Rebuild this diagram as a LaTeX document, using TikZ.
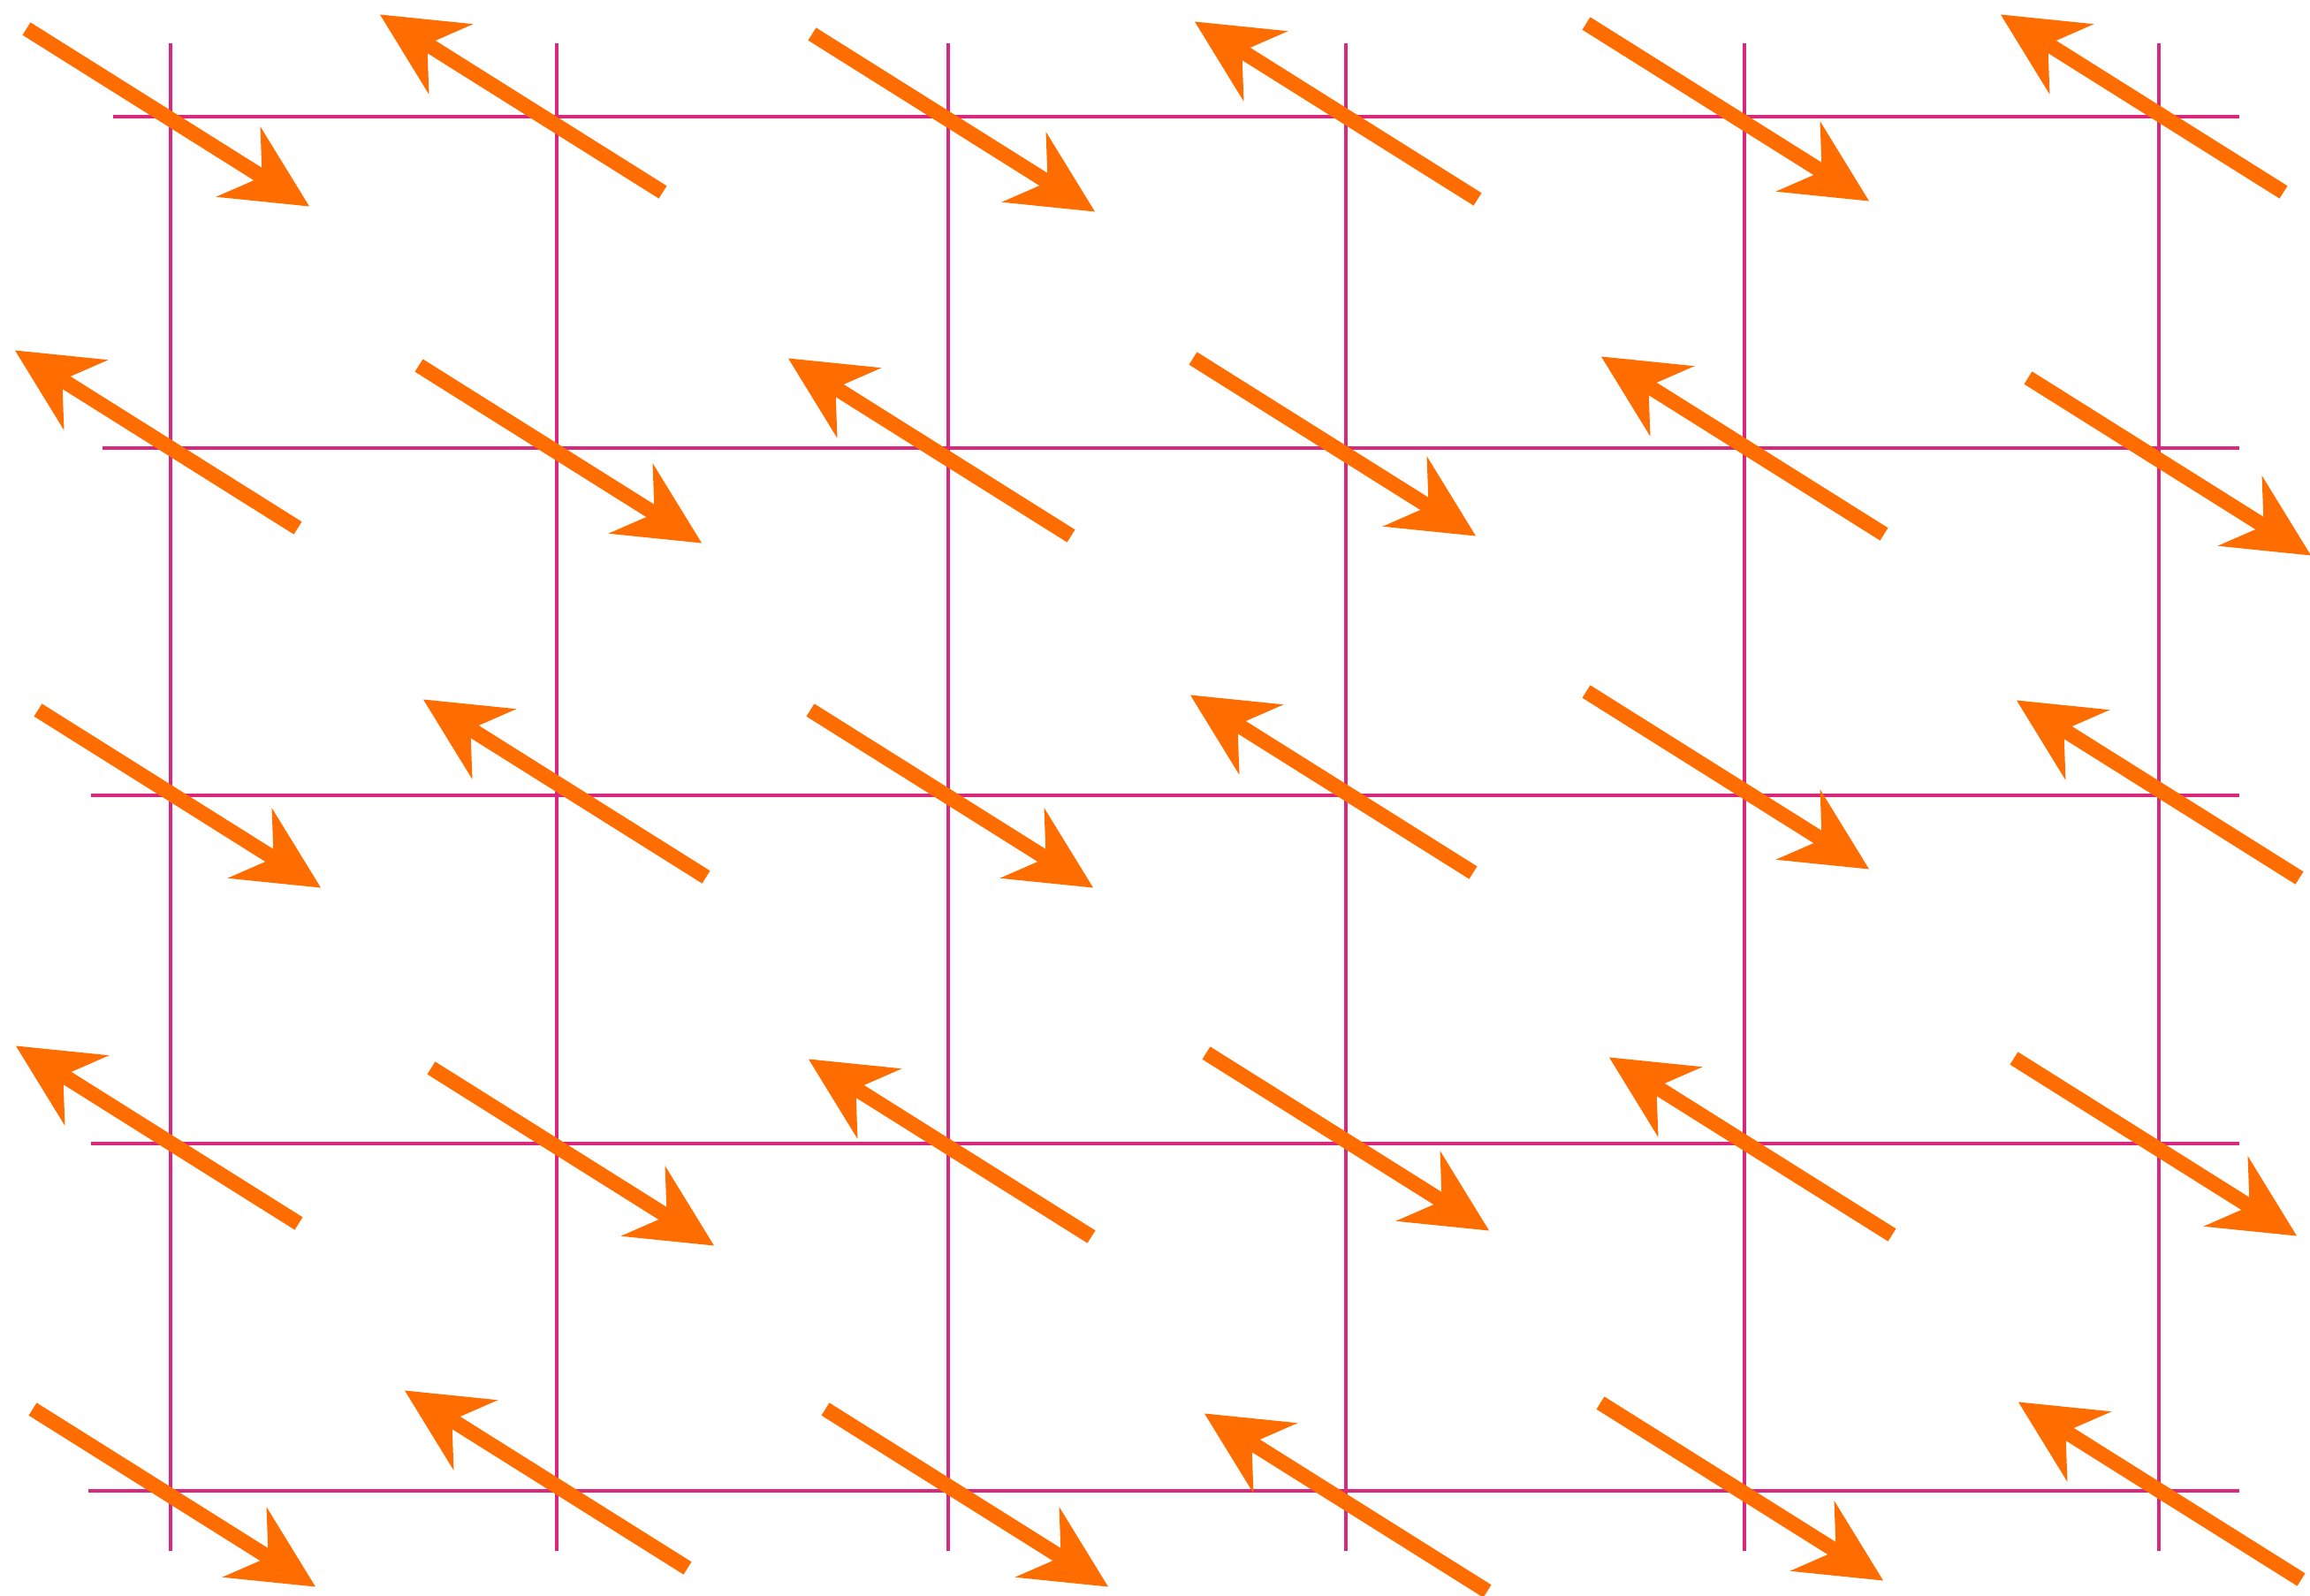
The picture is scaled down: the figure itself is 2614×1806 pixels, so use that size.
\documentclass[tikz,border=0pt]{standalone}
\usepackage{xcolor}
\usepackage{tikz}
\usetikzlibrary{arrows.meta}

\definecolor{gridpink}{RGB}{217,41,125}
\definecolor{spinorange}{RGB}{255,108,0}

\begin{document}
\begin{tikzpicture}[
  x=0.01cm, y=-0.01cm,
  gridline/.style={draw=gridpink, line width=1.35pt},
  spin/.style={draw=spinorange, line width=4.8pt,
    -{Stealth[length=0.95cm, width=0.94cm, inset=0.32cm, line width=0pt]}}
]
  \useasboundingbox (0,0) rectangle (2614,1806);

  % lattice
  \foreach \gx in {193,630,1073,1523,1974,2443}
    \draw[gridline] (\gx,49) -- (\gx,1755);
  \foreach \gy/\gs in {132/128,507/116,900/103,1294/103,1687/100}
    \draw[gridline] (\gs,\gy) -- (2534,\gy);

  % spins: centre and sense (1 = down-right, -1 = up-left)
  \foreach \cx/\cy/\sn in {
      190/133/1, 590/117/-1, 1079/139/1, 1512/125/-1, 1955/127/1, 2424/117/-1,
      177/497/-1, 634/514/1, 1052/506/-1, 1510/506/1, 1972/504/-1, 2455/528/1,
      203/904/1, 639/892/-1, 1077/904/1, 1507/887/-1, 1955/883/1, 2442/893/-1,
      178/1284/-1, 648/1309/1, 1075/1299/-1, 1525/1292/1, 1981/1297/-1, 2439/1298/1,
      197/1695/1, 618/1674/-1, 1094/1695/1, 1523/1700/-1, 1971/1688/1, 2444/1687/-1}
    \draw[spin] ({\cx-160*\sn},{\cy-100.5*\sn}) -- ({\cx+160*\sn},{\cy+100.5*\sn});
\end{tikzpicture}
\end{document}
